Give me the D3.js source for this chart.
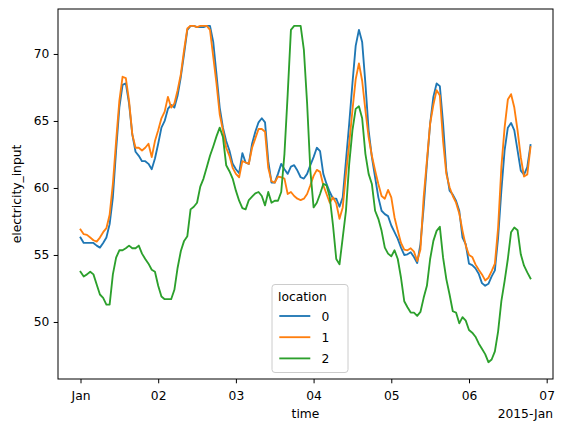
<!DOCTYPE html>
<html>
<head>
<meta charset="utf-8">
<script src="https://cdn.jsdelivr.net/npm/d3@7"></script>
<style>
  body { margin: 0; background: #fff; }
  svg { display: block; font-family: "DejaVu Sans", sans-serif; }
</style>
</head>
<body>
<svg id="chart" width="567" height="432"></svg>
<script>
// hourly readings starting 2015-01-01 00:00
const locations = ["0", "1", "2"];

const loc0 = [56.3, 55.9, 55.9, 55.9, 55.9, 55.7, 55.55, 55.9, 56.3, 57.3,
  59.3, 62.8, 66.0, 67.7, 67.8, 66.3, 64.0, 62.7, 62.4, 62.0,
  62.0, 61.8, 61.4, 62.2, 63.3, 64.5, 65.0, 65.9, 66.2, 66.0,
  66.9, 68.3, 70.0, 71.8, 72.1, 72.1, 72.0, 72.0, 72.0, 72.1,
  72.1, 70.9, 68.5, 66.0, 64.5, 63.5, 62.8, 61.8, 61.4, 61.1,
  62.6, 61.9, 61.8, 63.3, 64.2, 64.9, 65.2, 64.9, 62.0, 60.4,
  60.4, 61.05, 61.8, 61.4, 61.05, 61.6, 61.7, 61.3, 60.8, 60.7,
  61.05, 61.7, 62.3, 63.0, 62.75, 61.05, 60.3, 59.7, 59.2, 59.2,
  58.6, 59.3, 62.05, 64.8, 67.8, 70.6, 71.8, 70.9, 67.8, 64.3,
  62.3, 60.8, 59.3, 58.3, 58.05, 57.9, 57.2, 56.7, 56.2, 55.55,
  55.0, 55.05, 55.2, 54.85, 54.4, 55.8, 58.55, 61.8, 64.8, 66.8,
  67.8, 67.6, 64.8, 61.3, 59.8, 59.5, 59.05, 58.3, 56.3, 55.8,
  54.35, 54.25, 54.0, 53.6, 52.9, 52.7, 52.85, 53.4, 53.85, 56.3,
  59.8, 62.8, 64.5, 64.85, 64.3, 62.8, 61.3, 61.0, 61.55, 63.2];

const loc1 = [56.9, 56.55, 56.5, 56.3, 56.1, 56.0, 56.3, 56.7, 57.0, 58.0,
  60.3, 63.5, 66.5, 68.3, 68.2, 66.5, 64.0, 63.0, 63.0, 62.8,
  63.0, 63.3, 62.3, 63.5, 64.3, 65.2, 65.7, 66.8, 66.0, 66.3,
  67.3, 68.5, 70.3, 71.9, 72.1, 72.1, 72.0, 72.1, 72.1, 72.1,
  71.8, 69.8, 67.8, 65.5, 64.3, 63.0, 62.4, 61.5, 61.05, 60.8,
  62.0, 61.9, 61.8, 63.0, 63.7, 64.4, 64.4, 64.2, 61.5, 60.5,
  60.4, 60.85, 60.8, 60.7, 59.55, 59.7, 59.4, 59.2, 59.1, 59.2,
  59.55, 60.2, 60.9, 61.35, 61.2, 60.2, 59.55, 58.9, 59.3, 58.85,
  57.7, 58.55, 61.05, 63.3, 65.8, 68.1, 69.3, 68.0, 65.8, 63.8,
  62.4, 61.3, 60.3, 59.4, 59.2, 59.85, 59.3, 57.8, 56.8, 55.9,
  55.4, 55.35, 55.5, 55.25, 54.55, 55.4, 59.3, 62.05, 64.8, 66.2,
  67.3, 66.9, 63.5, 61.05, 60.05, 59.4, 58.9, 58.1, 56.8, 55.7,
  55.0, 54.85, 54.3, 53.9, 53.55, 53.1, 53.3, 53.8, 54.35, 57.05,
  61.55, 64.5, 66.6, 67.0, 66.0, 64.3, 62.3, 60.85, 61.0, 63.05];

const loc2 = [53.75, 53.4, 53.55, 53.75, 53.55, 52.8, 52.05, 51.8, 51.3, 51.3,
  53.55, 54.8, 55.35, 55.35, 55.5, 55.7, 55.5, 55.5, 55.7, 55.1,
  54.7, 54.35, 53.9, 53.75, 52.7, 51.9, 51.7, 51.7, 51.7, 52.4,
  54.05, 55.3, 56.05, 56.4, 58.4, 58.6, 58.9, 60.1, 60.7, 61.55,
  62.4, 63.1, 63.85, 64.5, 63.8, 61.7, 61.25, 60.7, 59.8, 59.05,
  58.5, 58.4, 59.1, 59.35, 59.6, 59.7, 59.4, 58.7, 59.7, 58.9,
  59.05, 59.05, 59.7, 62.55, 67.0, 71.8, 72.1, 72.1, 72.1, 70.3,
  66.3, 61.3, 58.55, 58.9, 59.55, 60.3, 60.2, 59.3, 57.2, 54.7,
  54.3, 56.3, 58.3, 61.8, 64.3, 65.9, 66.1, 65.2, 62.55, 61.05,
  60.3, 58.3, 57.7, 56.8, 55.55, 55.1, 54.9, 55.35, 54.7, 53.3,
  51.55, 51.1, 50.7, 50.7, 50.45, 50.75, 51.8, 52.7, 54.7, 56.05,
  56.8, 57.1, 54.8, 53.2, 52.05, 50.8, 50.7, 49.9, 50.36, 50.1,
  49.4, 49.2, 48.9, 48.4, 48.0, 47.6, 47.0, 47.2, 47.8, 49.3,
  51.55, 53.05, 54.7, 56.7, 57.05, 56.85, 55.05, 54.2, 53.7, 53.25];

const yTickValues = [50, 55, 60, 65, 70];
const xTickLabels = ["Jan", "02", "03", "04", "05", "06", "07"];
const offsetLabel = "2015-Jan";

const colors = ["#1f77b4", "#ff7f0e", "#2ca02c"];

const svg = d3.select("#chart");
const plot = { left: 58, right: 553, top: 9, bottom: 379 };
const fontSize = 12.3;

const start = Date.UTC(2015, 0, 1);
const series = [loc0, loc1, loc2].map((vals, k) => ({
  id: locations[k],
  values: vals.map((v, i) => ({ time: new Date(start + i * 3600e3), value: v }))
}));

// matplotlib-style 5% margins
const tExt = d3.extent(series[0].values, d => d.time);
const tPad = (tExt[1] - tExt[0]) * 0.05;
const x = d3.scaleUtc()
  .domain([new Date(+tExt[0] - tPad), new Date(+tExt[1] + tPad)])
  .range([plot.left, plot.right]);

const allValues = series.flatMap(s => s.values.map(d => d.value));
const yMin = d3.min(allValues), yMax = d3.max(allValues);
const yPad = (yMax - yMin) * 0.05;
const y = d3.scaleLinear()
  .domain([yMin - yPad, yMax + yPad])
  .range([plot.bottom, plot.top]);

const line = d3.line()
  .x(d => x(d.time))
  .y(d => y(d.value));

// lines
svg.append("defs").append("clipPath")
  .attr("id", "clip")
  .append("rect")
  .attr("x", plot.left)
  .attr("y", plot.top)
  .attr("width", plot.right - plot.left)
  .attr("height", plot.bottom - plot.top);

svg.append("g")
  .attr("clip-path", "url(#clip)")
  .selectAll("path")
  .data(series)
  .join("path")
  .attr("fill", "none")
  .attr("stroke", (d, i) => colors[i])
  .attr("stroke-width", 1.85)
  .attr("stroke-linejoin", "round")
  .attr("stroke-linecap", "square")
  .attr("d", d => line(d.values));

// axes
const xTicks = xTickLabels.map((_, i) => new Date(start + i * 86400e3));
const xAxis = svg.append("g")
  .attr("transform", `translate(0,${plot.bottom})`)
  .call(d3.axisBottom(x).tickValues(xTicks)
    .tickFormat((d, i) => xTickLabels[i])
    .tickSize(4.3).tickPadding(4.3));

const yAxis = svg.append("g")
  .attr("transform", `translate(${plot.left},0)`)
  .call(d3.axisLeft(y).tickValues(yTickValues)
    .tickSize(4.3).tickPadding(4.3));

[xAxis, yAxis].forEach(a => {
  a.select(".domain").remove();
  a.selectAll(".tick line").attr("stroke", "#000").attr("stroke-width", 1);
  a.selectAll(".tick text")
    .attr("fill", "#000")
    .style("font-size", fontSize + "px")
    .style("font-family", "DejaVu Sans");
});
xAxis.selectAll(".tick text").attr("dy", null).attr("y", 21);

// frame
svg.append("rect")
  .attr("x", plot.left)
  .attr("y", plot.top)
  .attr("width", plot.right - plot.left)
  .attr("height", plot.bottom - plot.top)
  .attr("fill", "none")
  .attr("stroke", "#000")
  .attr("stroke-width", 1);

// labels
svg.append("text")
  .attr("x", (plot.left + plot.right) / 2)
  .attr("y", 418)
  .attr("text-anchor", "middle")
  .style("font-size", fontSize + "px")
  .text("time");

svg.append("text")
  .attr("x", plot.right)
  .attr("y", 418)
  .attr("text-anchor", "end")
  .style("font-size", fontSize + "px")
  .text(offsetLabel);

svg.append("text")
  .attr("transform", `translate(20.5,${(plot.top + plot.bottom) / 2}) rotate(-90)`)
  .attr("text-anchor", "middle")
  .style("font-size", fontSize + "px")
  .text("electricity_input");

// legend
const legend = svg.append("g").attr("transform", "translate(272,284.5)");

legend.append("rect")
  .attr("width", 76)
  .attr("height", 88)
  .attr("rx", 3)
  .attr("fill", "#fff")
  .attr("fill-opacity", 0.8)
  .attr("stroke", "#cccccc")
  .attr("stroke-width", 1);

legend.append("text")
  .attr("x", 6)
  .attr("y", 16.5)
  .style("font-size", fontSize + "px")
  .text("location");

locations.forEach((loc, i) => {
  const yy = 31.5 + i * 21.2;
  legend.append("line")
    .attr("x1", 7.3)
    .attr("x2", 38.3)
    .attr("y1", yy)
    .attr("y2", yy)
    .attr("stroke", colors[i])
    .attr("stroke-width", 1.85);
  legend.append("text")
    .attr("x", 49.5)
    .attr("y", yy + 4.5)
    .style("font-size", fontSize + "px")
    .text(loc);
});
</script>
</body>
</html>
